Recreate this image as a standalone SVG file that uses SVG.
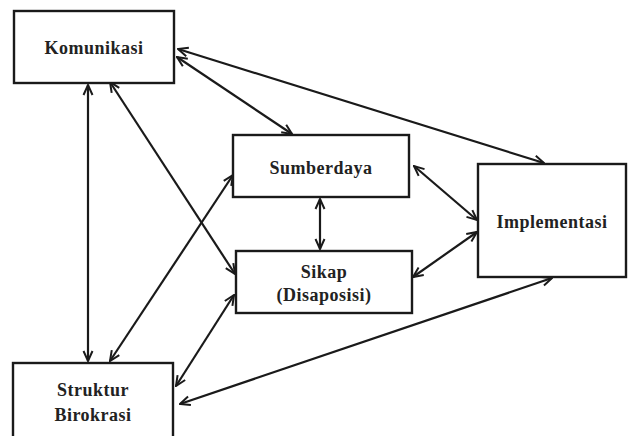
<svg xmlns="http://www.w3.org/2000/svg" width="629" height="436" viewBox="0 0 629 436">
<style>
.box{fill:#fff;stroke:#1a1a1a;stroke-width:2.4}
.lbl{font-family:"Liberation Serif",serif;font-weight:bold;font-size:18px;letter-spacing:0.5px;fill:#222;text-anchor:middle}
.con{stroke:#1a1a1a;stroke-width:2.2;fill:none;marker-start:url(#ah);marker-end:url(#ah)}
</style>
<defs>
<marker id="ah" viewBox="0 0 12 12" refX="11" refY="6" markerWidth="12" markerHeight="12" markerUnits="userSpaceOnUse" orient="auto-start-reverse">
<path d="M1,1.5 L11,6 L1,10.5" fill="none" stroke="#1a1a1a" stroke-width="2"/>
</marker>
</defs>
<rect width="629" height="436" fill="#fff"/>
<g id="connectors">
<line class="con" x1="88" y1="85" x2="88" y2="361"/>
<line class="con" x1="110" y1="82" x2="235" y2="274"/>
<line class="con" x1="178" y1="49" x2="544" y2="163"/>
<line class="con" x1="177" y1="57" x2="292" y2="134"/>
<line class="con" x1="110" y1="361" x2="233" y2="175"/>
<line class="con" x1="176" y1="386" x2="234" y2="295"/>
<line class="con" x1="180" y1="404" x2="552" y2="278"/>
<line class="con" x1="320" y1="199" x2="320" y2="249"/>
<line class="con" x1="414" y1="166" x2="477" y2="220"/>
<line class="con" x1="413" y1="277" x2="477" y2="232"/>
</g>
<g id="komunikasi">
<rect class="box" x="14" y="11" width="160" height="72"/>
<text class="lbl" x="94" y="54">Komunikasi</text>
</g>
<g id="sumberdaya">
<rect class="box" x="233" y="135" width="176" height="62"/>
<text class="lbl" x="321" y="174">Sumberdaya</text>
</g>
<g id="sikap">
<rect class="box" x="236" y="251" width="176" height="62"/>
<text class="lbl" x="324" y="278">Sikap</text>
<text class="lbl" x="324" y="301">(Disaposisi)</text>
</g>
<g id="implementasi">
<rect class="box" x="478" y="164" width="148" height="113"/>
<text class="lbl" x="552" y="228">Implementasi</text>
</g>
<g id="struktur">
<rect class="box" x="13" y="363" width="160" height="80"/>
<text class="lbl" x="93" y="396">Struktur</text>
<text class="lbl" x="93" y="421">Birokrasi</text>
</g>
</svg>
